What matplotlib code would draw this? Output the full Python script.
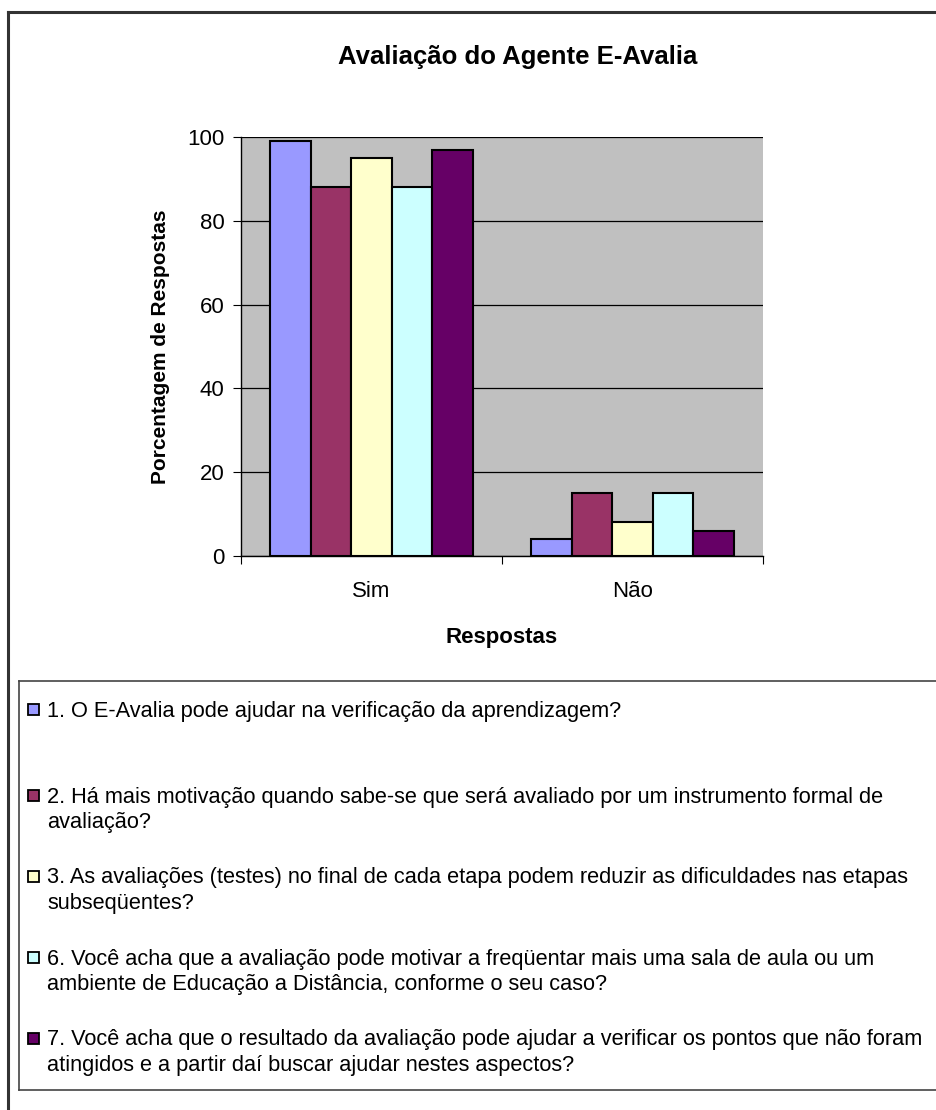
import matplotlib
matplotlib.use("Agg")
import matplotlib.pyplot as plt
from matplotlib.patches import Rectangle
import numpy as np

plt.rcParams['font.family'] = ['Liberation Sans', 'DejaVu Sans']

# data
categories = ["Sim", "Não"]
questions = [
    "1. O E-Avalia pode ajudar na verificação da aprendizagem?",
    "2. Há mais motivação quando sabe-se que será avaliado por um instrumento formal de\navaliação?",
    "3. As avaliações (testes) no final de cada etapa podem reduzir as dificuldades nas etapas\nsubseqüentes?",
    "6. Você acha que a avaliação pode motivar a freqüentar mais uma sala de aula ou um\nambiente de Educação a Distância, conforme o seu caso?",
    "7. Você acha que o resultado da avaliação pode ajudar a verificar os pontos que não foram\natingidos e a partir daí buscar ajudar nestes aspectos?",
]
q1 = [99, 4]
q2 = [88, 15]
q3 = [95, 8]
q6 = [88, 15]
q7 = [97, 6]
series = [q1, q2, q3, q6, q7]
colors = ["#9999FF", "#993366", "#FFFFCC", "#CCFFFF", "#660066"]
y_ticks = [0, 20, 40, 60, 80, 100]

W, H = 936, 1110
fig = plt.figure(figsize=(W / 100, H / 100), dpi=100)

# outer frame (left + top edges visible)
fig.add_artist(plt.Line2D([8 / W, 8 / W], [0, 1 - 12 / H], color="#333333", lw=2.2))
fig.add_artist(plt.Line2D([8 / W, 1], [1 - 12 / H, 1 - 12 / H], color="#333333", lw=2.2))

ax = fig.add_axes([241 / W, 1 - 556 / H, 522 / W, 419 / H])
ax.set_facecolor("#C0C0C0")

x = np.arange(len(categories)) + 0.5
bw = 0.155
for i, (vals, c) in enumerate(zip(series, colors)):
    ax.bar(x + (i - 2) * bw, vals, bw, color=c, edgecolor="black", linewidth=1.5, zorder=3)

ax.set_xlim(0, 2)
ax.set_ylim(0, 100)
ax.set_yticks(y_ticks)
ax.yaxis.grid(True, color="black", linewidth=0.9, zorder=1)
ax.set_axisbelow(True)
ax.set_xticks([0, 1, 2])
ax.set_xticklabels([])
ax.set_xticks(x, minor=True)
ax.set_xticklabels(categories, minor=True)
ax.tick_params(axis="x", which="minor", length=0, pad=18, labelsize=16)
ax.tick_params(axis="x", which="major", length=6, direction="out")
ax.tick_params(axis="y", length=6, direction="out", labelsize=16, pad=6)
for s in ["top", "right"]:
    ax.spines[s].set_visible(False)
for s in ["left", "bottom"]:
    ax.spines[s].set_color("black")
    ax.spines[s].set_linewidth(1.0)

ax.set_xlabel("Respostas", fontsize=16, fontweight="bold", labelpad=18)
ax.set_ylabel("Porcentagem de Respostas", fontsize=15, fontweight="bold", labelpad=12)
fig.text(518 / W, 1 - 57 / H, "Avaliação do Agente E-Avalia", fontsize=18.5,
         fontweight="bold", ha="center", va="center")

# legend box
lax = fig.add_axes([19 / W, 1 - 1090 / H, 1 - 19 / W + 0.01, (1090 - 681) / H])
lax.set_xlim(19, 19 + (W - 19) * (1 + 0.01 / (1 - 19 / W)))
lax.set_ylim(1090, 681)
lax.set_xticks([])
lax.set_yticks([])
for s in lax.spines.values():
    s.set_color("#444444")
    s.set_linewidth(1.2)
lax.spines["right"].set_visible(False)

entry_y = [709, 795, 876, 957, 1038]
for label, c, yy in zip(questions, colors, entry_y):
    lax.add_patch(Rectangle((28, yy - 5.5), 11, 11, facecolor=c, edgecolor="black", lw=1.3))
    lax.text(47, yy - 8.5, label, fontsize=15.7, va="top", ha="left", linespacing=1.28,
             transform=lax.transData)

fig.savefig("out.png", dpi=100)
